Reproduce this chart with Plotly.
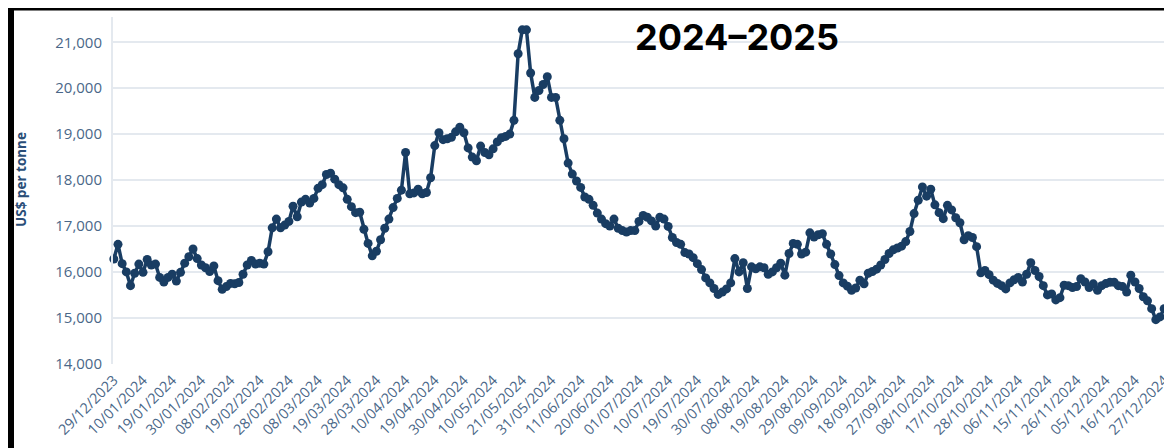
import pandas as pd
import plotly.graph_objects as go

# ---- data -------------------------------------------------------------
START_DATE = "2023-12-29"
HOLIDAYS = ["2024-01-01", "2024-03-29", "2024-04-01", "2024-05-06", "2024-05-27",
            "2024-08-26", "2024-12-25", "2024-12-26", "2025-01-01"]

PRICES = [
    16280, 16600, 16180, 16000, 15700, 15970, 16170, 15990, 16270, 16150,
    16170, 15880, 15780, 15880, 15950, 15800, 15990, 16190, 16330, 16500,
    16290, 16150, 16090, 16010, 16130, 15810, 15620, 15680, 15750, 15740,
    15770, 15950, 16150, 16250, 16170, 16190, 16170, 16440, 16960, 17150,
    16960, 17020, 17100, 17430, 17200, 17520, 17580, 17500, 17600, 17820,
    17900, 18120, 18150, 18020, 17900, 17830, 17580, 17420, 17290, 17300,
    16930, 16620, 16350, 16450, 16700, 16950, 17150, 17400, 17600, 17780,
    18600, 17700, 17720, 17800, 17700, 17730, 18050, 18750, 19030, 18880,
    18900, 18930, 19050, 19150, 19030, 18700, 18500, 18420, 18740, 18600,
    18550, 18680, 18830, 18920, 18950, 19000, 19300, 20750, 21270, 21270,
    20330, 19800, 19950, 20080, 20250, 19800, 19800, 19300, 18900, 18370,
    18130, 17980, 17840, 17630, 17580, 17450, 17280, 17150, 17050, 17000,
    17150, 16950, 16900, 16870, 16900, 16900, 17100, 17230, 17190, 17110,
    17000, 17190, 17150, 16990, 16750, 16640, 16600, 16420, 16390, 16310,
    16180, 16050, 15870, 15760, 15640, 15510, 15560, 15630, 15760, 16290,
    16000, 16200, 15640, 16110, 16070, 16110, 16090, 15950, 16000, 16090,
    16190, 15930, 16400, 16620, 16600, 16390, 16430, 16850, 16760, 16810,
    16830, 16600, 16390, 16160, 15920, 15760, 15690, 15600, 15650, 15820,
    15740, 15970, 16010, 16060, 16150, 16270, 16400, 16480, 16520, 16560,
    16660, 16880, 17270, 17560, 17850, 17650, 17800, 17460, 17290, 17160,
    17450, 17350, 17180, 17070, 16700, 16790, 16750, 16550, 15980, 16030,
    15940, 15820, 15750, 15700, 15630, 15760, 15830, 15880, 15780, 15950,
    16200, 16030, 15900, 15700, 15500, 15520, 15390, 15440, 15710, 15700,
    15660, 15680, 15850, 15780, 15660, 15740, 15600, 15700, 15745, 15775,
    15775, 15700, 15680, 15560, 15930, 15780, 15640, 15460, 15370, 15200,
    14960, 15020, 15200, 15170, 15100, 15250, 15100,
]

TICK_LABELS = [
    "29/12/2023", "10/01/2024", "19/01/2024", "30/01/2024", "08/02/2024",
    "19/02/2024", "28/02/2024", "08/03/2024", "19/03/2024", "28/03/2024",
    "10/04/2024", "19/04/2024", "30/04/2024", "10/05/2024", "21/05/2024",
    "31/05/2024", "11/06/2024", "20/06/2024", "01/07/2024", "10/07/2024",
    "19/07/2024", "30/07/2024", "08/08/2024", "19/08/2024", "29/08/2024",
    "09/09/2024", "18/09/2024", "27/09/2024", "08/10/2024", "17/10/2024",
    "28/10/2024", "06/11/2024", "15/11/2024", "26/11/2024", "05/12/2024",
    "16/12/2024", "27/12/2024",
]
Y_TICKS = [14000, 15000, 16000, 17000, 18000, 19000, 20000, 21000]
TITLE = "2024–2025"
Y_TITLE = "US$ per tonne"

# trading-day calendar (categories)
cbd = pd.offsets.CustomBusinessDay(holidays=HOLIDAYS)
dates = pd.date_range(START_DATE, periods=len(PRICES), freq=cbd).strftime("%d/%m/%Y").tolist()

# ---- figure -----------------------------------------------------------
W, H = 1172, 448
L, R, T, B = 105, 0, 9, 92
pw, ph = W - L - R, H - T - B

NAVY = "#193d63"
LABEL = "#4a6788"
GRID = "#e4e9ef"

fig = go.Figure()
fig.add_trace(go.Scatter(
    x=dates, y=PRICES, mode="lines+markers",
    line=dict(color=NAVY, width=3.5),
    marker=dict(color=NAVY, size=9),
    cliponaxis=False, showlegend=False,
))

fig.update_layout(
    width=W, height=H,
    margin=dict(l=L, r=R, t=T, b=B, autoexpand=False),
    paper_bgcolor="white", plot_bgcolor="white",
    font=dict(family="Open Sans", color=LABEL),
)
fig.update_xaxes(
    type="category", range=[-0.2, 255.8],
    tickmode="array", tickvals=TICK_LABELS, ticktext=TICK_LABELS,
    tickangle=-45, tickfont=dict(size=14.5, color=LABEL),
    showgrid=False, showline=False, zeroline=False, ticks="",
    ticklabelstandoff=4,
)
fig.update_yaxes(
    range=[13995, 21550], tickvals=Y_TICKS, tickformat=",",
    tickfont=dict(size=15, color=LABEL),
    showgrid=True, gridcolor=GRID, gridwidth=2,
    showline=True, linecolor=GRID, linewidth=2,
    zeroline=False, ticks="outside", ticklen=6, tickcolor="rgba(0,0,0,0)",
)

def px(xp):
    return (xp - L) / pw

def py(yp):
    return (H - B - yp) / ph

fig.add_annotation(
    text=TITLE, xref="paper", yref="paper", x=px(729), y=py(29),
    xanchor="center", yanchor="middle", showarrow=False,
    font=dict(family="Inter", size=36, color="black", weight=700),
)
fig.add_annotation(
    text=Y_TITLE, xref="paper", yref="paper", x=px(13), y=py(172),
    xanchor="center", yanchor="middle", showarrow=False, textangle=-90,
    font=dict(family="Open Sans", size=13.5, color="#2a4e78", weight=700),
)

# black frame around the picture
for (x0, y0, x1, y1) in [(0, 0, 6, H), (0, 0, W, 2.5), (0, H - 5, W, H), (W - 3, 0, W, H)]:
    fig.add_shape(type="rect", xref="paper", yref="paper",
                  x0=px(x0), x1=px(x1), y0=py(y1), y1=py(y0),
                  fillcolor="black", line=dict(width=0), layer="above")

fig.write_html("out.html")
